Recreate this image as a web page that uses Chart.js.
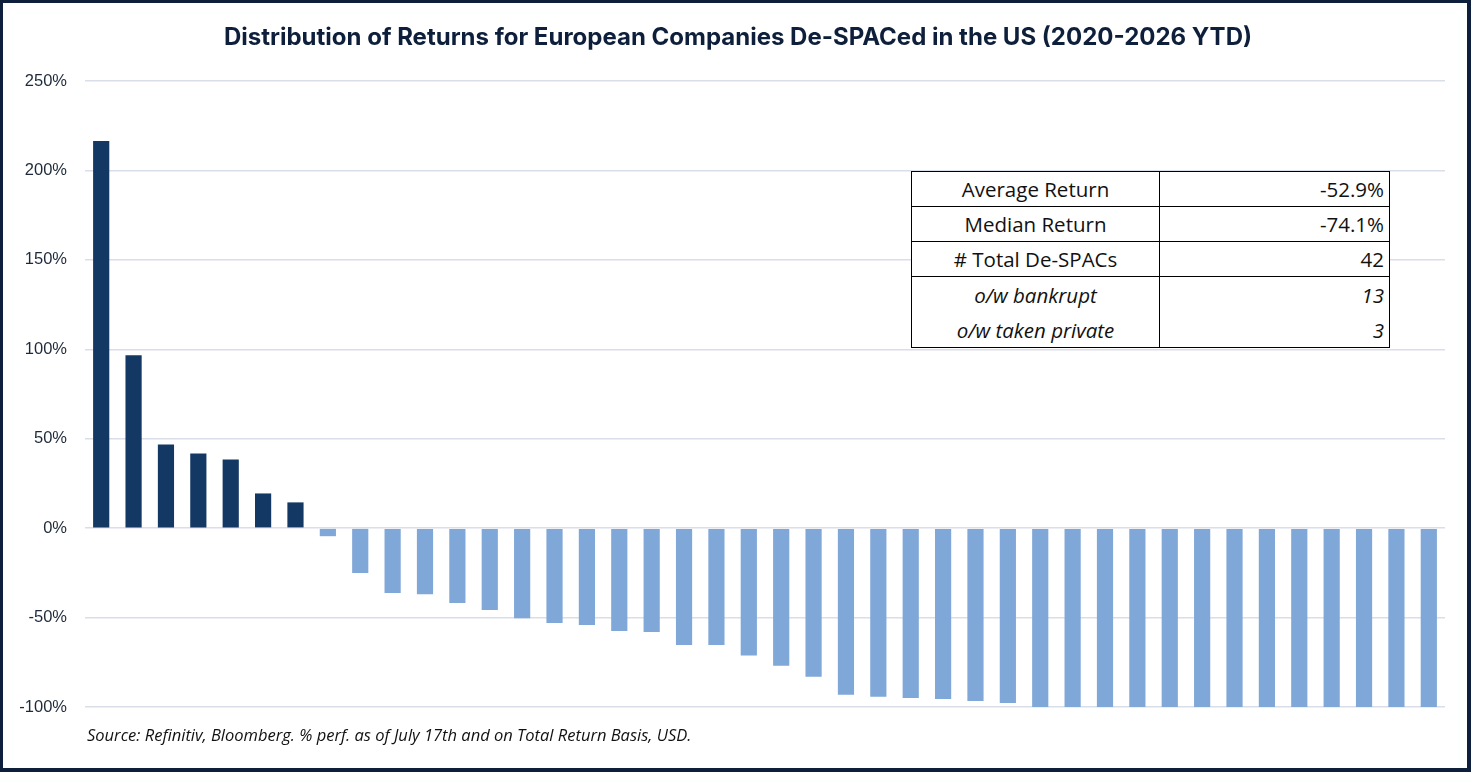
<!DOCTYPE html>
<html><head><meta charset="utf-8">
<script src="https://cdn.jsdelivr.net/npm/chart.js@4.4.1/dist/chart.umd.min.js"></script>
<style>
html,body{margin:0;padding:0;background:#fff;}
#wrap{position:relative;width:1471px;height:772px;overflow:hidden;background:#fff;}
#frame{position:absolute;left:0;top:0;width:1471px;height:772px;box-sizing:border-box;border-style:solid;border-color:#0E1F3B;border-width:3px 4px 4px 3px;pointer-events:none;}
#title{position:absolute;left:0;top:23px;width:1476px;text-align:center;font-family:Inter,sans-serif;font-weight:700;font-size:24px;line-height:28px;color:#0E1F3B;white-space:nowrap;}
#stats{position:absolute;left:911px;top:171px;width:479px;border-collapse:collapse;font-family:"Open Sans","Noto Sans",sans-serif;font-size:20.5px;color:#111;background:#fff;table-layout:fixed;}
#stats td{border:1px solid #000;padding:0 5px;line-height:20px;white-space:nowrap;}
#stats td.l{text-align:center;width:237px;}
#stats td.r{text-align:right;}
#stats tr.n td{height:34px;}
#stats tr.i td{font-style:italic;height:35px;}
#stats tr.i1 td{border-bottom:none;}
#stats tr.i2 td{border-top:none;}
#note{position:absolute;left:87px;top:725px;line-height:20px;font-family:"Open Sans",sans-serif;font-style:italic;font-size:16.5px;color:#111;white-space:nowrap;}
</style></head>
<body>
<div id="wrap">
<canvas id="c"></canvas>
<div id="title"></div>
<table id="stats">
<tr class="n"><td class="l">Average Return</td><td class="r">-52.9%</td></tr>
<tr class="n"><td class="l">Median Return</td><td class="r">-74.1%</td></tr>
<tr class="n"><td class="l"># Total De-SPACs</td><td class="r">42</td></tr>
<tr class="i i1"><td class="l">o/w bankrupt</td><td class="r">13</td></tr>
<tr class="i i2"><td class="l">o/w taken private</td><td class="r">3</td></tr>
</table>
<div id="note">Source: Refinitiv, Bloomberg. % perf. as of July 17th and on Total Return Basis, USD.</div>
<div id="frame"></div>
</div>
<script>
const titleText = "Distribution of Returns for European Companies De-SPACed in the US (2020-2026 YTD)";
const returns = [216.4, 96.7, 46.8, 41.8, 38.4, 19.4, 14.4,
  -4.5, -25.1, -36.3, -37.0, -41.8, -45.8, -50.4, -53.0, -54.1, -57.5, -58.0,
  -65.3, -65.3, -71.2, -77.0, -83.1, -93.2, -94.3, -94.9, -95.5, -96.6, -97.7,
  -100, -100, -100, -100, -100, -100, -100, -100, -100, -100, -100, -100, -100];
const companies = returns.map((v, i) => String(i + 1));
const yTicks = [-100, -50, 0, 50, 100, 150, 200, 250];
const posColor = "#133864";
const negColor = "#7FA7D7";

document.getElementById('title').textContent = titleText;

const canvas = document.getElementById('c');
canvas.width = 1471; canvas.height = 772;
canvas.style.width = '1471px'; canvas.style.height = '772px';

new Chart(canvas, {
  type: 'bar',
  data: {
    labels: companies,
    datasets: [{
      data: returns,
      backgroundColor: returns.map(v => v >= 0 ? posColor : negColor),
      borderWidth: 0,
      categoryPercentage: 1.0,
      barPercentage: 0.5
    }]
  },
  options: {
    responsive: false,
    animation: false,
    devicePixelRatio: 1,
    layout: { padding: { left: 0, right: 26, top: 81, bottom: 65 } },
    plugins: {
      legend: { display: false },
      tooltip: { enabled: false },
      title: { display: false }
    },
    scales: {
      x: { display: false, offset: true },
      y: {
        min: -100, max: 250,
        afterBuildTicks: s => { s.ticks = yTicks.map(v => ({ value: v })); },
        afterFit: s => { s.width = 85; },
        border: { display: false },
        grid: { color: '#D9DEE9', lineWidth: 1.5, drawTicks: false },
        ticks: {
          padding: 18,
          color: '#1E2A3A',
          font: { family: 'Liberation Sans', size: 16.5 },
          callback: v => v + '%'
        }
      }
    }
  }
});
</script>
</body></html>
